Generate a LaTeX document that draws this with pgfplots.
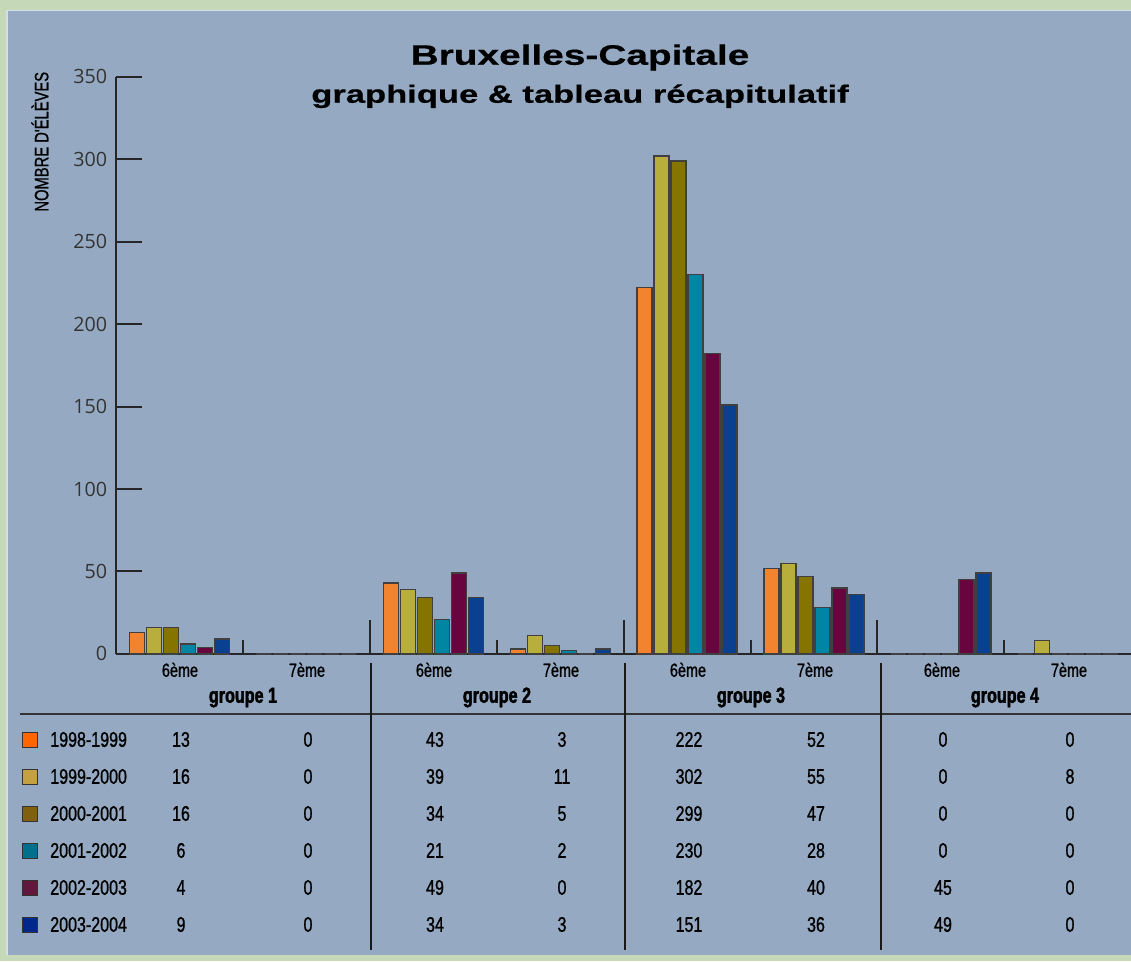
\documentclass[border=0pt]{standalone}
\usepackage{pgfplots}
\pgfplotsset{compat=1.18}
\usepackage{fontspec}
\setmainfont{Liberation Sans}
\newfontfamily\condfont{Liberation Sans}[FakeStretch=0.76,FakeBold=1]
\newfontfamily\condbold{Liberation Sans Bold}[FakeStretch=0.74,FakeBold=1.8]
\newfontfamily\titlefont{Liberation Sans Bold}[FakeStretch=1.38,FakeBold=0.6]
\newfontfamily\tickfont{Open Sans}

\definecolor{outerbg}{RGB}{197,217,185}
\definecolor{panel}{RGB}{149,170,194}
% bar colours
\definecolor{b1}{RGB}{242,132,48}
\definecolor{b2}{RGB}{184,174,60}
\definecolor{b3}{RGB}{133,116,0}
\definecolor{b4}{RGB}{0,134,163}
\definecolor{b5}{RGB}{104,4,62}
\definecolor{b6}{RGB}{10,64,144}
% legend square colours
\definecolor{l1}{RGB}{255,102,0}
\definecolor{l2}{RGB}{196,160,64}
\definecolor{l3}{RGB}{128,96,16}
\definecolor{l4}{RGB}{0,112,140}
\definecolor{l5}{RGB}{96,24,60}
\definecolor{l6}{RGB}{0,40,140}

\begin{document}
\begin{tikzpicture}[x=0.025cm,y=0.025cm]
\useasboundingbox (0,0) rectangle (1131,961);

% everything outside the axis: pixel coordinates, y downwards
\begin{scope}[y=-0.025cm, yshift=24.025cm]
\fill[outerbg] (0,0) rectangle (1131,961);
\fill[panel] (7,11) rectangle (1131,955);
\draw[white!60!panel, line width=0.8pt] (7,955) -- (7,11) -- (1131,11);

\node[anchor=base] at (580,65) {\titlefont\fontsize{20}{24}\selectfont Bruxelles-Capitale};
\node[anchor=base] at (580,103) {\titlefont\fontsize{17.8}{20}\selectfont graphique \& tableau récapitulatif};
\node[rotate=90] at (40,142) {\condfont\fontsize{13.8}{15}\selectfont NOMBRE D'ÉLÈVES};

% table
\draw[line width=1.4pt, black!80] (20,714) -- (1131,714);
\foreach \xx in {371,625,881}
  \draw[line width=1pt, black!90] (\xx,663) -- (\xx,950);
\foreach \i/\t in {0/6,1/7,2/6,3/7,4/6,5/7,6/6,7/7}
  \node[anchor=base] at ({180+127*\i},677) {\condfont\fontsize{13.5}{15}\selectfont \t ème};
\foreach \g/\n in {0/1,1/2,2/3,3/4}
  \node[anchor=base] at ({243+254*\g},703) {\condbold\fontsize{15.5}{17}\selectfont groupe \n};

\foreach \r/\name/\col/\vals in {
  0/1998-1999/l1/{13,0,43,3,222,52,0,0},
  1/1999-2000/l2/{16,0,39,11,302,55,0,8},
  2/2000-2001/l3/{16,0,34,5,299,47,0,0},
  3/2001-2002/l4/{6,0,21,2,230,28,0,0},
  4/2002-2003/l5/{4,0,49,0,182,40,45,0},
  5/2003-2004/l6/{9,0,34,3,151,36,49,0}} {
  \filldraw[fill=\col, draw=black!80, line width=0.7pt] (22,{733+37*\r}) rectangle (37,{748+37*\r});
  \node[anchor=base west, inner sep=0pt] at (50,{747+37*\r}) {\condfont\fontsize{15}{17}\selectfont \name};
  \foreach \v [count=\i from 0] in \vals
    \node[anchor=base] at ({181+127*\i},{747+37*\r}) {\condfont\fontsize{15}{17}\selectfont \v};
}
\end{scope}

\begin{axis}[
  at={(2.9cm,7.675cm)}, anchor=south west,
  scale only axis,
  width=25.375cm, height=14.425cm,
  xmin=-0.5, xmax=7.5,
  ymin=0, ymax=350,
  axis x line=bottom, axis y line=left,
  axis line style={-, line width=1.4pt, draw=black!85},
  xtick=\empty,
  ytick={0,50,...,350},
  major tick length=0.65cm,
  tick align=inside,
  tick style={line width=1.4pt, black!85},
  yticklabel style={font=\tickfont\fontsize{14}{16}\selectfont, text=black!80, xshift=-0.1cm},
  /pgf/number format/assume math mode=true,
  ybar=0.05cm, bar width=0.375cm,
  clip=false,
  mybar/.style={draw=black!75, line width=0.9pt},
]
\addplot[mybar, fill=b1] coordinates {(0,13) (1,0) (2,43) (3,3) (4,222) (5,52) (6,0) (7,0)};
\addplot[mybar, fill=b2] coordinates {(0,16) (1,0) (2,39) (3,11) (4,302) (5,55) (6,0) (7,8)};
\addplot[mybar, fill=b3] coordinates {(0,16) (1,0) (2,34) (3,5) (4,299) (5,47) (6,0) (7,0)};
\addplot[mybar, fill=b4] coordinates {(0,6) (1,0) (2,21) (3,2) (4,230) (5,28) (6,0) (7,0)};
\addplot[mybar, fill=b5] coordinates {(0,4) (1,0) (2,49) (3,0) (4,182) (5,40) (6,45) (7,0)};
\addplot[mybar, fill=b6] coordinates {(0,9) (1,0) (2,34) (3,3) (4,151) (5,36) (6,49) (7,0)};
% separators between categories
\draw[line width=1.4pt, black!85] (axis cs:0.5,0) -- (axis cs:0.5,8.5);
\draw[line width=1.4pt, black!85] (axis cs:2.5,0) -- (axis cs:2.5,8.5);
\draw[line width=1.4pt, black!85] (axis cs:4.5,0) -- (axis cs:4.5,8.5);
\draw[line width=1.4pt, black!85] (axis cs:6.5,0) -- (axis cs:6.5,8.5);
\draw[line width=1.4pt, black!85] (axis cs:1.5,0) -- (axis cs:1.5,20.5);
\draw[line width=1.4pt, black!85] (axis cs:3.5,0) -- (axis cs:3.5,20.5);
\draw[line width=1.4pt, black!85] (axis cs:5.5,0) -- (axis cs:5.5,20.5);
\end{axis}
\end{tikzpicture}
\end{document}
